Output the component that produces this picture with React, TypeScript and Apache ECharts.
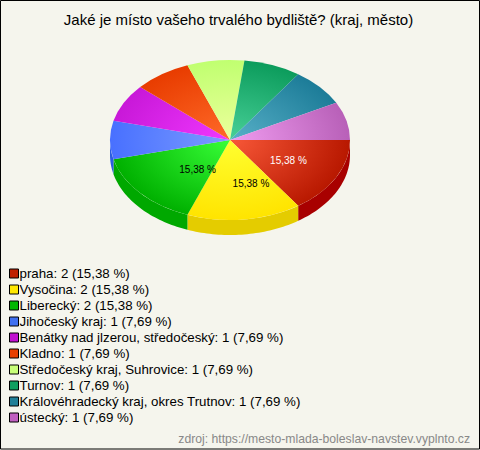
import React, { useEffect, useRef } from "react";
import * as echarts from "echarts";

const titleText = "Jaké je místo vašeho trvalého bydliště? (kraj, město)";
const sourceText = "zdroj: https://mesto-mlada-boleslav-navstev.vyplnto.cz";
const categories = ["praha", "Vysočina", "Liberecký", "Jihočeský kraj", "Benátky nad jlzerou, středočeský", "Kladno", "Středočeský kraj, Suhrovice", "Turnov", "Královéhradecký kraj, okres Trutnov", "ústecký"];
const counts = [2, 2, 2, 1, 1, 1, 1, 1, 1, 1];
const percents = ["15,38", "15,38", "15,38", "7,69", "7,69", "7,69", "7,69", "7,69", "7,69", "7,69"];
const legendColors = ["#c02000", "#ffe800", "#00b800", "#4070f0", "#c010d0", "#e84000", "#c8ff78", "#10a060", "#208098", "#c060c0"];
const innerColors = ["#f85838", "#ffff30", "#38ff38", "#7c9cff", "#f038ff", "#ff6a28", "#ecff9c", "#48d098", "#58b0c8", "#f09cf0"];
const outerColors = ["#b81800", "#ffe400", "#00b000", "#4870ff", "#c818d8", "#e83c00", "#c0ff70", "#0c9c5c", "#1c7c98", "#b860b8"];
const wallColors = ["#a80000", "#e4cc00", "#00a800", "#2a5ce0", "#a010b0", "#c03000", "#a0d860", "#088048", "#106078", "#984898"];
const labelColors = ["#fff", "#000", "#000"];
const labelShift = [0, 13, 17];

const CX = 230, CY = 140, RX = 120, RY = 80, DEPTH = 15;
const total = counts.reduce((a, b) => a + b, 0);
const names = categories.map((c, i) => `${c}: ${counts[i]} (${percents[i]} %)`);

function wallPoints(a0: number, a1: number) {
  const s = Math.max(a0, 0), e = Math.min(a1, Math.PI);
  if (e <= s) return null;
  const top: number[][] = [], bottom: number[][] = [];
  const steps = 40;
  for (let k = 0; k <= steps; k++) {
    const t = s + ((e - s) * k) / steps;
    const x = CX + RX * Math.cos(t), y = CY + RY * Math.sin(t);
    top.push([x, y]);
    bottom.unshift([x, y + DEPTH]);
  }
  return top.concat(bottom);
}

export default function App() {
  const ref = useRef<HTMLDivElement>(null);
  useEffect(() => {
    const chart = echarts.init(ref.current!, null, { renderer: "svg" });
    let acc = 0;
    const series = counts.map((v, i) => {
      const a0 = (acc / total) * Math.PI * 2;
      acc += v;
      const a1 = (acc / total) * Math.PI * 2;
      return {
        type: "custom",
        name: names[i],
        coordinateSystem: "none",
        itemStyle: { color: legendColors[i] },
        silent: true,
        data: [[v]],
        renderItem: () => {
          const children: any[] = [];
          const wall = wallPoints(a0, a1);
          if (wall) children.push({ type: "polygon", shape: { points: wall }, style: { fill: wallColors[i] } });
          children.push({
            type: "sector",
            x: CX, y: CY, scaleY: RY / RX,
            shape: { cx: 0, cy: 0, r: RX, r0: 0, startAngle: a0, endAngle: a1, clockwise: true },
            style: {
              fill: new echarts.graphic.RadialGradient(0, 0, RX, [
                { offset: 0, color: innerColors[i] },
                { offset: 1, color: outerColors[i] },
              ], true),
            },
          });
          if (i < labelColors.length) {
            const m = (a0 + a1) / 2;
            children.push({
              type: "text",
              x: CX + 0.55 * RX * Math.cos(m) + labelShift[i],
              y: CY + 0.55 * RY * Math.sin(m),
              style: {
                text: `${percents[i]} %`, fill: labelColors[i],
                font: "10px 'Liberation Sans'", align: "center", verticalAlign: "middle",
              },
            });
          }
          return { type: "group", children };
        },
      };
    });
    chart.setOption({
      animation: false,
      backgroundColor: "#f5f5ed",
      title: {
        text: titleText, left: 233.5, top: 7, textAlign: "center",
        textStyle: { fontFamily: "Liberation Sans", fontSize: 15, fontWeight: "normal", color: "#000" },
      },
      legend: {
        orient: "vertical", left: 4, top: 262, itemWidth: 9, itemHeight: 9, itemGap: 3,
        selectedMode: false, icon: "rect",
        textStyle: { fontFamily: "Liberation Sans", fontSize: 13.3, color: "#000", padding: [0, 0, 0, -4] },
        data: names.map((name, i) => ({ name, itemStyle: { color: legendColors[i], borderColor: "#000", borderWidth: 1 } })),
      },
      graphic: [
        { type: "rect", shape: { x: 0.5, y: 0.5, width: 479, height: 448.5 }, style: { fill: "none", stroke: "#000", lineWidth: 1 }, silent: true },
        { type: "text", x: 470, y: 439, style: { text: sourceText, fill: "#888", font: "12.2px 'Liberation Sans'", align: "right", verticalAlign: "middle" } },
      ],
      series,
    });
    return () => chart.dispose();
  }, []);
  return <div ref={ref} style={{ position: "fixed", left: 0, top: 0, width: 480, height: 450 }} />;
}
